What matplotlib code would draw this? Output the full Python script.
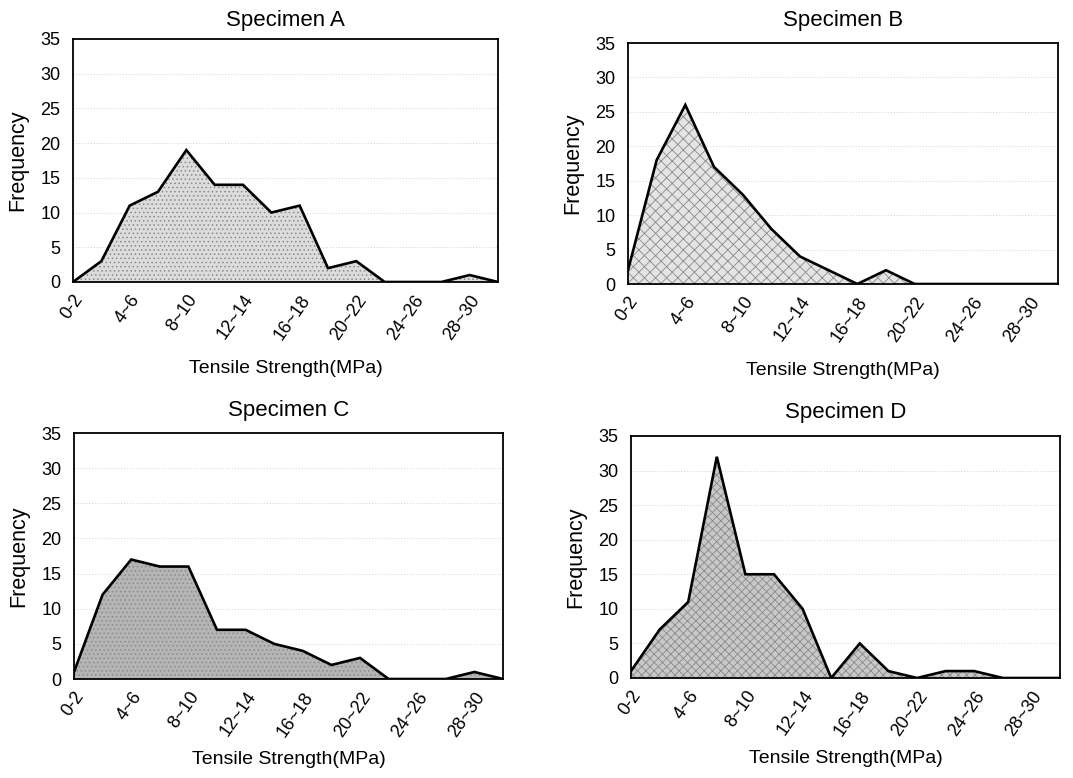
import matplotlib
matplotlib.use("Agg")
import matplotlib.pyplot as plt
import numpy as np

plt.rcParams['font.family'] = ['Liberation Sans', 'DejaVu Sans']
plt.rcParams['hatch.linewidth'] = 0.6

# tensile strength classes (MPa)
bins = ["0-2", "2~4", "4~6", "6~8", "8~10", "10~12", "12~14", "14~16",
        "16~18", "18~20", "20~22", "22~24", "24~26", "26~28", "28~30", "30~32"]

# frequency per specimen
freq_a = [0, 3, 11, 13, 19, 14, 14, 10, 11, 2, 3, 0, 0, 0, 1, 0]
freq_b = [2, 18, 26, 17, 13, 8, 4, 2, 0, 2, 0, 0, 0, 0, 0, 0]
freq_c = [1, 12, 17, 16, 16, 7, 7, 5, 4, 2, 3, 0, 0, 0, 1, 0]
freq_d = [1, 7, 11, 32, 15, 15, 10, 0, 5, 1, 0, 1, 1, 0, 0, 0]

titles = ["Specimen A", "Specimen B", "Specimen C", "Specimen D"]
series = [freq_a, freq_b, freq_c, freq_d]

# fill look for each panel: face colour, hatch
fills = [("#dcdcdc", "...."), ("#e4e4e4", "xxx"), ("#b5b5b5", "...."), ("#c8c8c8", "xxxx")]

# axes boxes in pixels: left, top, right, bottom + title pad, xlabel pad
boxes = [(73, 39, 498, 282, 9, 12), (628, 43, 1058, 284, 12, 12),
         (74, 433, 503, 679, 12, 8), (631, 436, 1060, 678, 13, 8)]

W, H = 1073, 778
fig = plt.figure(figsize=(W / 100, H / 100), dpi=100)

x = np.arange(len(bins))
for title, vals, (fc, hatch), (l, t, r, b, tpad, xpad) in zip(titles, series, fills, boxes):
    ax = fig.add_axes([l / W, 1 - b / H, (r - l) / W, (b - t) / H])
    ax.fill_between(x, vals, 0, facecolor=fc, hatch=hatch, edgecolor="#8a8a8a", linewidth=0)
    ax.plot(x, vals, color="black", lw=1.9, solid_joinstyle="miter")
    ax.set_xlim(0, len(bins) - 1)
    ax.set_ylim(0, 35)
    ax.set_yticks(range(0, 36, 5))
    ax.set_xticks(x[::2])
    ax.set_xticklabels(bins[::2], rotation=55, ha="right", va="top",
                       rotation_mode="anchor", fontsize=13)
    ax.tick_params(axis="both", length=0, labelsize=13)
    ax.tick_params(axis="x", pad=7)
    ax.tick_params(axis="y", pad=9)
    ax.yaxis.grid(True, color="#d2d2d2", linestyle=(0, (1, 2)), linewidth=0.7)
    ax.set_axisbelow(True)
    for s in ax.spines.values():
        s.set_linewidth(1.3)
    ax.set_title(title, fontsize=16, pad=tpad)
    ax.set_ylabel("Frequency", fontsize=15.5, labelpad=9)
    ax.set_xlabel("Tensile Strength(MPa)", fontsize=14, labelpad=xpad)

fig.savefig("out.png", dpi=100, facecolor="white")
